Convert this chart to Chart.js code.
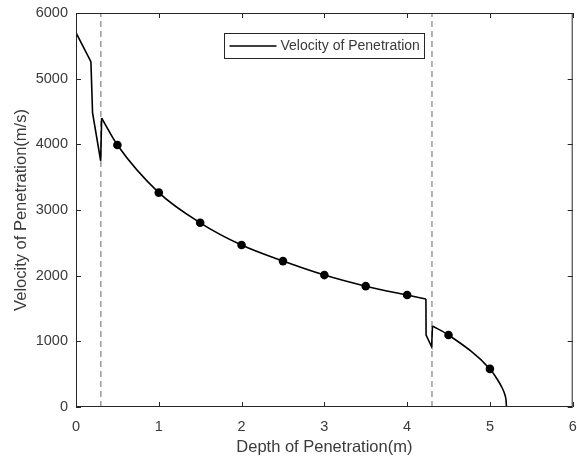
<!DOCTYPE html>
<html>
<head>
<meta charset="utf-8">
<script src="https://cdn.jsdelivr.net/npm/chart.js@4/dist/chart.umd.min.js"></script>
<style>
  html, body { margin: 0; padding: 0; background: #fff; }
  #wrap { width: 577px; height: 461px; }
</style>
</head>
<body>
<div id="wrap"><canvas id="c" width="577" height="461"></canvas></div>
<script>
// Penetration velocity versus depth through a layered target.

// Tick labels
const xTicks = [0, 1, 2, 3, 4, 5, 6];
const yTicks = [0, 1000, 2000, 3000, 4000, 5000, 6000];

// Layer interfaces (m)
const interfaceDepth = [0.3, 4.3];

// First layer: entry and crossing of the first interface
const entryDepth = [0, 0.18, 0.20, 0.298, 0.31];
const entryVel   = [5700, 5260, 4480, 3750, 4400];

// Second layer (smooth deceleration)
const midDepth = [0.31, 0.5, 1.0, 1.5, 2.0, 2.5, 3.0, 3.5, 4.0, 4.227];
const midVel   = [4400, 3990, 3265, 2805, 2466, 2222, 2009, 1840, 1705, 1645];

// Crossing of the second interface
const crossDepth = [4.227, 4.229, 4.296, 4.306];
const crossVel   = [1645, 1096, 918, 1233];

// Last layer down to rest
const tailDepth = [4.306, 4.5, 5.0, 5.1, 5.15, 5.18, 5.195, 5.2];
const tailVel   = [1233, 1096, 580, 400, 285, 190, 100, 0];

// Sampled points shown with markers
const markDepth = [0.5, 1.0, 1.5, 2.0, 2.5, 3.0, 3.5, 4.0, 4.5, 5.0];
const markVel   = [3990, 3265, 2805, 2466, 2222, 2009, 1840, 1705, 1096, 580];

const seriesLabel = 'Velocity of Penetration';
const xTitle = 'Depth of Penetration(m)';
const yTitle = 'Velocity of Penetration(m/s)';

const FONT = "'Liberation Sans', Arial, sans-serif";
const INK = '#262626';
const TEXT = '#3a3a3a';

const pts = (xs, ys) => xs.map((x, i) => ({ x: x, y: ys[i] }));

const lineStyle = {
  borderColor: '#000', borderWidth: 1.6, pointRadius: 0, fill: false,
  showLine: true, order: 1
};

const datasets = [
  Object.assign({ label: seriesLabel, data: pts(entryDepth, entryVel), tension: 0 }, lineStyle),
  Object.assign({ label: seriesLabel, data: pts(midDepth, midVel), cubicInterpolationMode: 'monotone' }, lineStyle),
  Object.assign({ label: seriesLabel, data: pts(crossDepth, crossVel), tension: 0 }, lineStyle),
  Object.assign({ label: seriesLabel, data: pts(tailDepth, tailVel), cubicInterpolationMode: 'monotone' }, lineStyle),
  {
    label: 'markers', data: pts(markDepth, markVel), showLine: false,
    pointRadius: 4.3, pointBackgroundColor: '#000', pointBorderColor: '#000',
    pointBorderWidth: 0, order: 0
  }
];
interfaceDepth.forEach((d, i) => {
  datasets.push({
    label: 'interface' + i,
    data: [{ x: d, y: yTicks[0] }, { x: d, y: yTicks[yTicks.length - 1] }],
    showLine: true, borderColor: '#9a9a9a', borderWidth: 1.5,
    borderDash: [6, 4], pointRadius: 0, order: 2
  });
});

// Box frame, inward ticks on all four sides and the legend box
const framePlugin = {
  id: 'frame',
  afterDatasetsDraw(chart) {
    const { ctx, chartArea: a, scales } = chart;
    ctx.save();
    ctx.strokeStyle = INK;
    ctx.lineWidth = 1;
    ctx.strokeRect(a.left + 0.5, a.top + 0.5, a.right - a.left - 1, a.bottom - a.top - 1);
    const tl = 5;
    ctx.beginPath();
    xTicks.forEach(v => {
      const px = Math.round(scales.x.getPixelForValue(v)) + 0.5;
      ctx.moveTo(px, a.bottom); ctx.lineTo(px, a.bottom - tl);
      ctx.moveTo(px, a.top); ctx.lineTo(px, a.top + tl);
    });
    yTicks.forEach(v => {
      const py = Math.round(scales.y.getPixelForValue(v)) + 0.5;
      ctx.moveTo(a.left, py); ctx.lineTo(a.left + tl, py);
      ctx.moveTo(a.right, py); ctx.lineTo(a.right - tl, py);
    });
    ctx.stroke();

    // legend
    const w = 200, h = 25;
    const lx = Math.round((a.left + a.right) / 2 - w / 2) + 0.5;
    const ly = a.top + 20.5;
    ctx.fillStyle = '#fff';
    ctx.fillRect(lx, ly, w, h);
    ctx.strokeStyle = INK;
    ctx.lineWidth = 1;
    ctx.strokeRect(lx, ly, w, h);
    ctx.beginPath();
    ctx.strokeStyle = '#000';
    ctx.lineWidth = 1.6;
    ctx.moveTo(lx + 5, ly + h / 2);
    ctx.lineTo(lx + 52, ly + h / 2);
    ctx.stroke();
    ctx.fillStyle = TEXT;
    ctx.font = '14px ' + FONT;
    ctx.textBaseline = 'middle';
    ctx.textAlign = 'left';
    ctx.fillText(seriesLabel, lx + 56, ly + h / 2 + 0.5);
    ctx.restore();
  }
};

const plain = v => String(v);

new Chart(document.getElementById('c'), {
  type: 'scatter',
  data: { datasets: datasets },
  options: {
    responsive: false,
    animation: false,
    events: [],
    layout: { padding: { top: 13, right: 0, left: 0, bottom: 0 } },
    plugins: { legend: { display: false }, tooltip: { enabled: false } },
    scales: {
      x: {
        type: 'linear', min: xTicks[0], max: xTicks[xTicks.length - 1],
        afterBuildTicks(s) { s.ticks = xTicks.map(v => ({ value: v })); },
        afterFit(s) { s.height = 54; s.paddingLeft = 0; s.paddingRight = 0; },
        grid: { display: false, drawTicks: false },
        border: { display: false },
        ticks: { color: TEXT, font: { family: FONT, size: 14.5 }, padding: 11, maxRotation: 0, callback: plain },
        title: { display: true, text: xTitle, color: TEXT, font: { family: FONT, size: 16.5 }, padding: { top: 0, bottom: 4 } }
      },
      y: {
        type: 'linear', min: yTicks[0], max: yTicks[yTicks.length - 1],
        afterBuildTicks(s) { s.ticks = yTicks.map(v => ({ value: v })); },
        afterFit(s) { s.width = 76; s.paddingTop = 0; s.paddingBottom = 0; },
        grid: { display: false, drawTicks: false },
        border: { display: false },
        ticks: { color: TEXT, font: { family: FONT, size: 14.5 }, padding: 8, callback: plain },
        title: { display: true, text: yTitle, color: TEXT, font: { family: FONT, size: 16.5 }, padding: { top: 11.5, bottom: 0 } }
      }
    }
  },
  plugins: [framePlugin]
});
</script>
</body>
</html>
